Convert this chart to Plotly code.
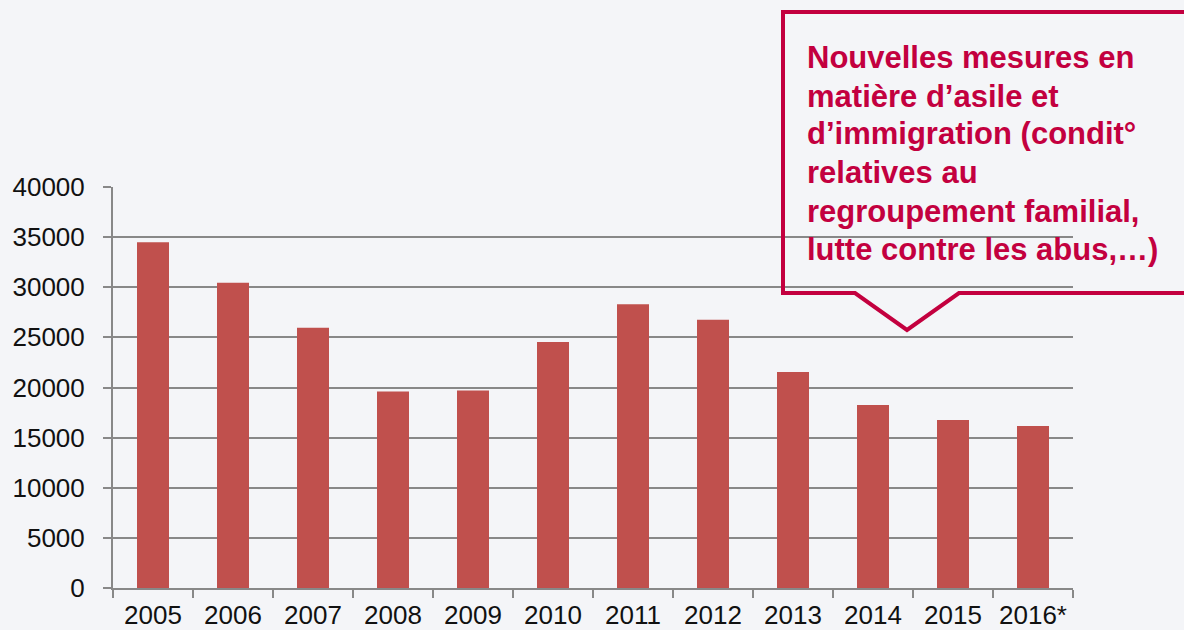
import plotly.graph_objects as go

years = ["2005", "2006", "2007", "2008", "2009", "2010", "2011", "2012", "2013", "2014", "2015", "2016*"]
values = [34500, 30450, 25950, 19600, 19700, 24550, 28300, 26750, 21550, 18250, 16750, 16150]
y_ticks = [0, 5000, 10000, 15000, 20000, 25000, 30000, 35000, 40000]
callout_lines = [
    "Nouvelles mesures en",
    "matière d’asile et",
    "d’immigration (condit°",
    "relatives au",
    "regroupement familial,",
    "lutte contre les abus,…)",
]

W, H = 1184, 630
L, R, T, B = 113, 1073, 187, 588

def px(x):
    return (x - L) / (R - L)

def py(y):
    return (B - y) / (B - T)

CRIMSON = "#C3003F"
GRID = "#888888"

fig = go.Figure(go.Bar(x=years, y=values, marker=dict(color="#C0504D", line=dict(width=0))))

fig.update_layout(
    width=W, height=H,
    margin=dict(l=L, r=W - R, t=T, b=H - B, pad=0, autoexpand=False),
    paper_bgcolor="#F4F5F8",
    plot_bgcolor="rgba(0,0,0,0)",
    bargap=0.6,
    showlegend=False,
    font=dict(family="Arial, Liberation Sans, sans-serif", size=22, color="#111111"),
)
fig.update_xaxes(
    type="category", automargin=False, showgrid=False, showline=True, linecolor=GRID, linewidth=2,
    ticks="outside", tickson="boundaries", ticklen=8, tickwidth=2, tickcolor=GRID,
    tickfont=dict(size=26), ticklabelstandoff=3,
)
fig.update_yaxes(
    range=[0, 40000], automargin=False, tickvals=y_ticks, ticktext=[str(v) for v in y_ticks],
    showgrid=True, gridcolor=GRID, gridwidth=2, zeroline=False,
    showline=True, linecolor=GRID, linewidth=2,
    ticks="outside", ticklen=8, tickwidth=2, tickcolor=GRID,
    tickfont=dict(size=26), ticklabelstandoff=13,
)

# callout shape (open to the right)
pts = [(1200, 12), (783, 12), (783, 293), (855, 293), (907, 330), (959, 293), (1200, 293)]
path = "M " + " L ".join(f"{px(x):.5f},{py(y):.5f}" for x, y in pts)
fig.add_shape(type="path", path=path, xref="paper", yref="paper",
              line=dict(color=CRIMSON, width=4), fillcolor="rgba(0,0,0,0)", layer="above")

baselines = [69, 107, 145, 183, 222, 260]
for line, bl in zip(callout_lines, baselines):
    fig.add_annotation(
        text=f"<b>{line}</b>", xref="paper", yref="paper",
        x=px(805), y=py(bl - 11), xanchor="left", yanchor="middle",
        showarrow=False, font=dict(size=31, color=CRIMSON, family="Arial, Liberation Sans, sans-serif"),
    )

fig.write_html(
    "out.html",
    config={"displayModeBar": False},
    post_script="document.body.style.margin='0';document.body.style.overflow='hidden';",
)
